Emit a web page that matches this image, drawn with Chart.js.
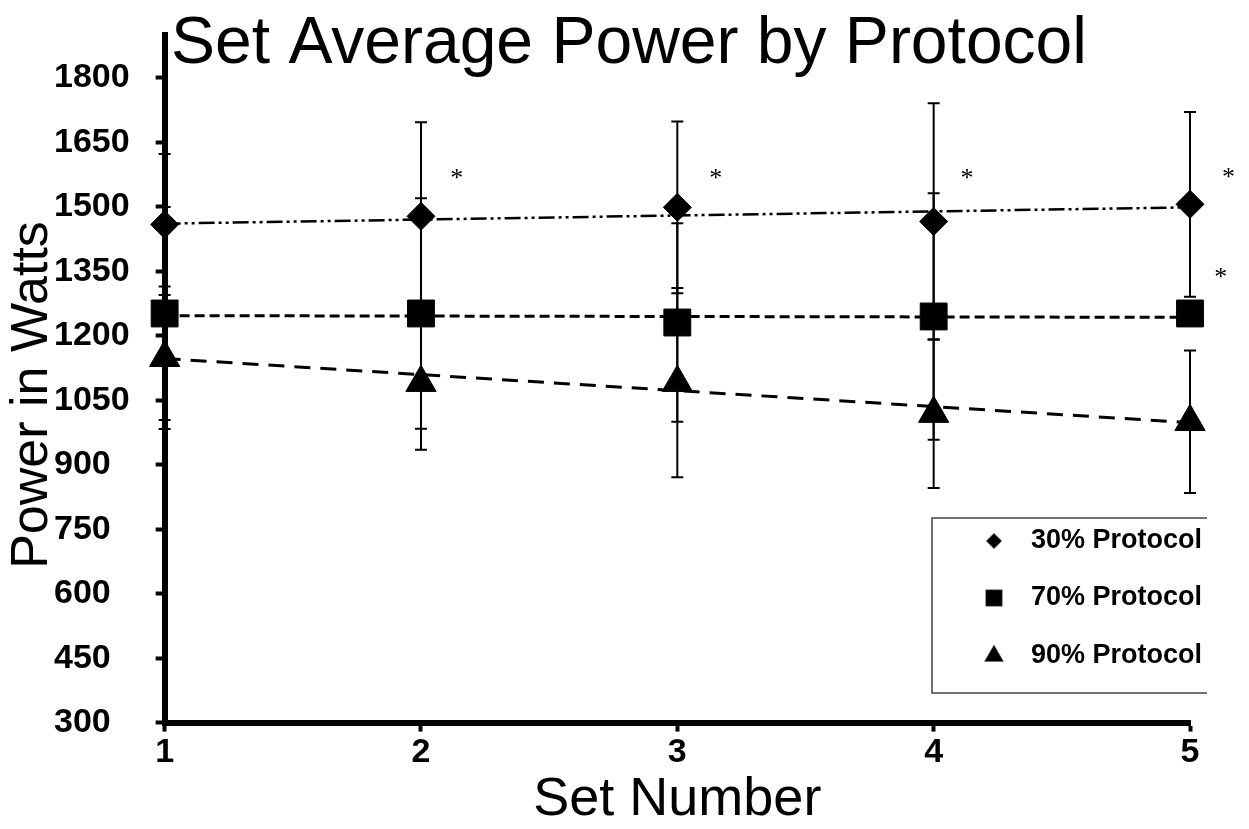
<!DOCTYPE html>
<html>
<head>
<meta charset="utf-8">
<script src="https://cdn.jsdelivr.net/npm/chart.js@4.4.1/dist/chart.umd.min.js"></script>
<style>
  html, body { margin: 0; padding: 0; background: #fff; }
  #wrap { width: 1249px; height: 829px; position: relative; }
</style>
</head>
<body>
<div id="wrap"><canvas id="mychart"></canvas></div>
<script>
// values
const setNumbers = [1, 2, 3, 4, 5];
const seriesLabels = ['30% Protocol', '70% Protocol', '90% Protocol'];

const power30 = [1459, 1478, 1499, 1466, 1506];
const power70 = [1252, 1252, 1231, 1245, 1252];
const power90 = [1149, 1091, 1091, 1019, 1000];

const sd30 = [164, 219, 200, 275, 215];
const sd70 = [248, 268, 231, 287, 20];
const sd90 = [166, 156, 220, 173, 166];

// trend line ends at set 1 and set 5
const trendX = [1, 5];
const trend30 = [1461, 1499];
const trend70 = [1247, 1243];
const trend90 = [1147, 998];

// significance marks
const starX = [2.14, 3.15, 4.13, 5.15, 5.12];
const starY = [1578, 1578, 1578, 1580, 1347];

const yMin = 300, yMax = 1900, yStep = 150;

const FONT = "'Liberation Sans', Arial, sans-serif";

const pts = (xs, ys) => xs.map((x, i) => ({x: x, y: ys[i]}));

const markerSet = (label, values, errors, style, radius) => ({
    type: 'scatter',
    label: label,
    data: pts(setNumbers, values),
    errorBars: errors,
    pointStyle: style,
    pointRadius: radius,
    pointBackgroundColor: '#000',
    pointBorderColor: '#000',
    pointBorderWidth: 1,
    showLine: false,
    clip: false,
    order: 0,
});

const trendSet = (values, dash, width) => ({
    type: 'line',
    label: 'trend',
    data: pts(trendX, values),
    borderColor: '#000',
    borderWidth: width,
    borderDash: dash,
    pointRadius: 0,
    fill: false,
    order: 1,
});

// error bars under the markers
const errorBarPlugin = {
    id: 'errorBars',
    beforeDatasetsDraw(chart) {
        const ctx = chart.ctx;
        const y = chart.scales.y;
        ctx.save();
        ctx.strokeStyle = '#000';
        ctx.lineWidth = 2;
        chart.data.datasets.forEach((ds, i) => {
            if (!ds.errorBars) return;
            const meta = chart.getDatasetMeta(i);
            meta.data.forEach((pt, j) => {
                const v = ds.data[j].y, e = ds.errorBars[j];
                const top = y.getPixelForValue(v + e);
                const bot = y.getPixelForValue(v - e);
                ctx.beginPath();
                ctx.moveTo(pt.x, top); ctx.lineTo(pt.x, bot);
                ctx.moveTo(pt.x - 6, top); ctx.lineTo(pt.x + 6, top);
                ctx.moveTo(pt.x - 6, bot); ctx.lineTo(pt.x + 6, bot);
                ctx.stroke();
            });
        });
        ctx.restore();
    }
};

const starPlugin = {
    id: 'stars',
    afterDatasetsDraw(chart) {
        const ctx = chart.ctx;
        ctx.save();
        ctx.fillStyle = '#000';
        ctx.font = "26px 'Liberation Serif', 'Times New Roman', serif";
        ctx.textAlign = 'center';
        ctx.textBaseline = 'middle';
        starX.forEach((sx, i) => {
            ctx.fillText('*', chart.scales.x.getPixelForValue(sx), chart.scales.y.getPixelForValue(starY[i]) + 6);
        });
        ctx.restore();
    }
};

// chart title and y title sit over the plot/labels like the original
const titlePlugin = {
    id: 'bigTitle',
    afterDraw(chart) {
        const ctx = chart.ctx;
        ctx.save();
        ctx.fillStyle = '#000';
        ctx.font = '66px ' + FONT;
        ctx.textAlign = 'center';
        ctx.textBaseline = 'alphabetic';
        ctx.fillText('Set Average Power by Protocol', 629, 63);

        ctx.font = '52px ' + FONT;
        ctx.textBaseline = 'middle';
        ctx.translate(33, 395);
        ctx.rotate(-Math.PI / 2);
        ctx.fillText('Power in Watts', 0, 0);
        ctx.restore();
    }
};

const legendPlugin = {
    id: 'boxLegend',
    afterDraw(chart) {
        const ctx = chart.ctx;
        const left = 932, top = 518, right = 1207, bottom = 693;
        ctx.save();
        ctx.strokeStyle = '#444';
        ctx.lineWidth = 1.5;
        ctx.beginPath();
        ctx.moveTo(right, top); ctx.lineTo(left, top);
        ctx.lineTo(left, bottom); ctx.lineTo(right, bottom);
        ctx.stroke();
        const rows = [541, 598, 656];
        const styles = [['rectRot', 7], ['rect', 11], ['triangle', 10]];
        ctx.fillStyle = '#000';
        ctx.font = 'bold 27px ' + FONT;
        ctx.textBaseline = 'middle';
        rows.forEach((ry, i) => {
            Chart.helpers.drawPoint(ctx, {pointStyle: styles[i][0], radius: styles[i][1], rotation: 0, borderWidth: 1}, 994, ry);
            ctx.fillStyle = '#000';
            ctx.fill();
            ctx.fillText(seriesLabels[i], 1031, ry);
        });
        ctx.restore();
    }
};

const data = {
    datasets: [
        markerSet(seriesLabels[0], power30, sd30, 'rectRot', 14),
        markerSet(seriesLabels[1], power70, sd70, 'rect', 19),
        markerSet(seriesLabels[2], power90, sd90, 'triangle', 17.5),
        trendSet(trend30, [16, 4, 3, 4, 3, 4], 2.5),
        trendSet(trend70, [10, 5], 3),
        trendSet(trend90, [16, 10], 3),
    ]
};

const config = {
    type: 'scatter',
    data: data,
    options: {
        responsive: true,
        maintainAspectRatio: false,
        animation: false,
        devicePixelRatio: 1,
        layout: { padding: { top: 35, right: 59, left: 54, bottom: 0 } },
        plugins: {
            legend: { display: false },
            tooltip: { enabled: false },
            title: { display: false },
        },
        scales: {
            x: {
                type: 'linear',
                min: 1,
                max: 5,
                ticks: {
                    stepSize: 1,
                    padding: 2,
                    color: '#000',
                    font: { family: FONT, size: 34, weight: 'bold', lineHeight: 1.1 },
                },
                grid: { drawOnChartArea: false, drawTicks: true, tickLength: 9, tickWidth: 4, tickColor: '#000' },
                border: { display: true, width: 6, color: '#000' },
                title: {
                    display: true,
                    text: 'Set Number',
                    color: '#000',
                    font: { family: FONT, size: 54, lineHeight: 1 },
                    padding: { top: 0, bottom: 2 },
                },
            },
            y: {
                type: 'linear',
                min: yMin,
                max: yMax,
                ticks: {
                    stepSize: yStep,
                    includeBounds: false,
                    padding: 13,
                    crossAlign: 'far',
                    color: '#000',
                    font: { family: FONT, size: 34, weight: 'bold', lineHeight: 1.1 },
                    callback: (v) => String(v),
                },
                grid: { drawOnChartArea: false, drawTicks: true, tickLength: 9, tickWidth: 4, tickColor: '#000' },
                border: { display: true, width: 6, color: '#000' },
            },
        },
    },
    plugins: [errorBarPlugin, starPlugin, titlePlugin, legendPlugin],
};

const ctx = document.getElementById('mychart').getContext('2d');
new Chart(ctx, config);
</script>
</body>
</html>
